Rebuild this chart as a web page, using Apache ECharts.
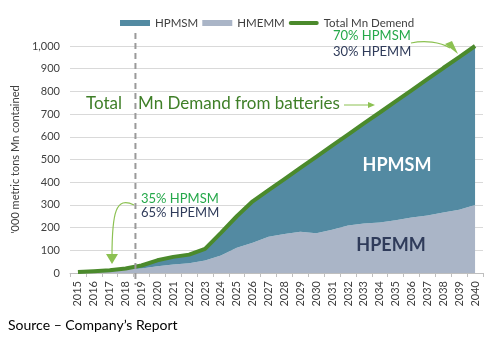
<!DOCTYPE html>
<html>
<head>
<meta charset="utf-8">
<script src="https://cdn.jsdelivr.net/npm/echarts@6/dist/echarts.min.js"></script>
<style>
html,body{margin:0;padding:0;background:#fff;}
#chart{width:485px;height:343px;}
</style>
</head>
<body>
<div id="chart"></div>
<script>
const years = ['2015','2016','2017','2018','2019','2020','2021','2022','2023','2024','2025','2026','2027','2028','2029','2030','2031','2032','2033','2034','2035','2036','2037','2038','2039','2040'];
const hpemm = [3,6,9,15,20,30,37,43,55,77,111,133,160,172,182,175,191,209,218,223,232,244,253,267,279,300];
const hpmsm = [1,2,3,5,13,26,34,38,51,100,139,183,205,242,281,337,370,401,441,484,524,561,601,636,672,700];
const total = [4,8,12,20,33,56,71,81,106,177,250,316,365,414,463,512,561,610,659,707,756,805,854,903,951,1000];
const yTicks = {min:0, max:1000, interval:100};

const FONT = 'Lato';
const chart = echarts.init(document.getElementById('chart'));
const arrowGreen = '#8cc152';
const lineIcon = 'path://M2,0 L28,0 A2,2 0 0 1 28,4 L2,4 A2,2 0 0 1 2,0 Z';
chart.setOption({
  animation:false,
  textStyle:{fontFamily:FONT},
  grid:{left:70, right:2, top:46, bottom:70},
  legend:{
    left:115, top:12, itemGap:4, itemWidth:30, itemHeight:6,
    textStyle:{fontSize:11.5, color:'#404040', fontFamily:FONT},
    data:[
      {name:'HPMSM', icon:'rect'},
      {name:'HMEMM', icon:'rect'},
      {name:'Total Mn Demend', icon:lineIcon}
    ]
  },
  xAxis:{
    type:'category', data:years, boundaryGap:true,
    axisLine:{lineStyle:{color:'#bfbfbf'}},
    axisTick:{show:true, length:4, lineStyle:{color:'#bfbfbf'}},
    axisLabel:{rotate:90, fontSize:11, color:'#404040', margin:8, interval:0, fontFamily:FONT}
  },
  yAxis:{
    type:'value', min:yTicks.min, max:yTicks.max, interval:yTicks.interval,
    name:"'000 metric tons Mn contained", nameLocation:'middle', nameGap:45,
    nameTextStyle:{fontSize:11, color:'#404040', fontFamily:FONT},
    axisLine:{show:false}, axisTick:{show:false},
    axisLabel:{fontSize:11, color:'#404040', margin:10, fontFamily:FONT,
      formatter:v=>v.toLocaleString('en-US')},
    splitLine:{lineStyle:{color:'#d9d9d9'}}
  },
  series:[
    {name:'HMEMM', type:'line', stack:'mn', data:hpemm, symbol:'none',
      lineStyle:{width:0}, itemStyle:{color:'#aab5c7'},
      areaStyle:{color:'#aab5c7', opacity:1}},
    {name:'HPMSM', type:'line', stack:'mn', data:hpmsm, symbol:'none',
      lineStyle:{width:0}, itemStyle:{color:'#538aa2'},
      areaStyle:{color:'#538aa2', opacity:1}},
    {name:'Total Mn Demend', type:'line', data:total, symbol:'none', symbolKeepAspect:true,
      lineStyle:{width:4, color:'#4b8a2c'}, itemStyle:{color:'#4b8a2c'}, z:5}
  ]
});

// annotation positions
const x18 = chart.convertToPixel({xAxisIndex:0}, '2018');
const x19 = chart.convertToPixel({xAxisIndex:0}, '2019');
const dashX = x18 + (x19 - x18) * 0.62;

chart.setOption({
  graphic:[
    {type:'line', shape:{x1:dashX, y1:33, x2:dashX, y2:285}, z:10,
      style:{stroke:'#9a9a9a', lineWidth:2, lineDash:[6,4]}},
    {type:'text', left:86, top:95, z:11, style:{text:'Total', fill:'#3f7f28', fontSize:17, fontFamily:FONT}},
    {type:'text', left:138, top:95, z:11, style:{text:'Mn Demand from batteries', fill:'#3f7f28', fontSize:17, fontFamily:FONT}},
    {type:'line', shape:{x1:344, y1:105, x2:370, y2:105}, z:11, style:{stroke:arrowGreen, lineWidth:1}},
    {type:'polygon', shape:{points:[[368,102],[375,105],[368,108]]}, z:11, style:{fill:arrowGreen}},
    {type:'text', left:333, top:29, z:11, style:{text:'70% HPMSM', fill:'#25a84a', fontSize:13, fontFamily:FONT}},
    {type:'text', left:333, top:45, z:11, style:{text:'30% HPEMM', fill:'#2f3b5a', fontSize:13, fontFamily:FONT}},
    {type:'bezierCurve', shape:{x1:411, y1:43, cpx1:425, cpy1:40, cpx2:440, cpy2:42, x2:450, y2:48}, z:11,
      style:{stroke:arrowGreen, lineWidth:1.2, fill:null}},
    {type:'polygon', shape:{points:[[445,44],[458,54],[452,41]]}, z:11, style:{fill:arrowGreen}},
    {type:'text', left:141, top:192, z:11, style:{text:'35% HPMSM', fill:'#25a84a', fontSize:13, fontFamily:FONT}},
    {type:'text', left:141, top:206, z:11, style:{text:'65% HPEMM', fill:'#2f3b5a', fontSize:13, fontFamily:FONT}},
    {type:'bezierCurve', shape:{x1:134, y1:205, cpx1:116, cpy1:196, cpx2:112, cpy2:212, x2:112, y2:256}, z:11,
      style:{stroke:arrowGreen, lineWidth:1.2, fill:null}},
    {type:'polygon', shape:{points:[[106,254],[118,254],[112,264]]}, z:11, style:{fill:arrowGreen}},
    {type:'text', x:397, y:165, z:11, style:{text:'HPMSM', fill:'#ffffff', fontSize:18, fontWeight:'bold', fontFamily:FONT, textAlign:'center', textVerticalAlign:'middle'}},
    {type:'text', x:391, y:245, z:11, style:{text:'HPEMM', fill:'#2f3b5a', fontSize:18, fontWeight:'bold', fontFamily:FONT, textAlign:'center', textVerticalAlign:'middle'}},
    {type:'text', left:8, top:318, z:11, style:{text:'Source – Company’s Report', fill:'#000000', fontSize:14, fontFamily:FONT}}
  ]
});
</script>
</body>
</html>
